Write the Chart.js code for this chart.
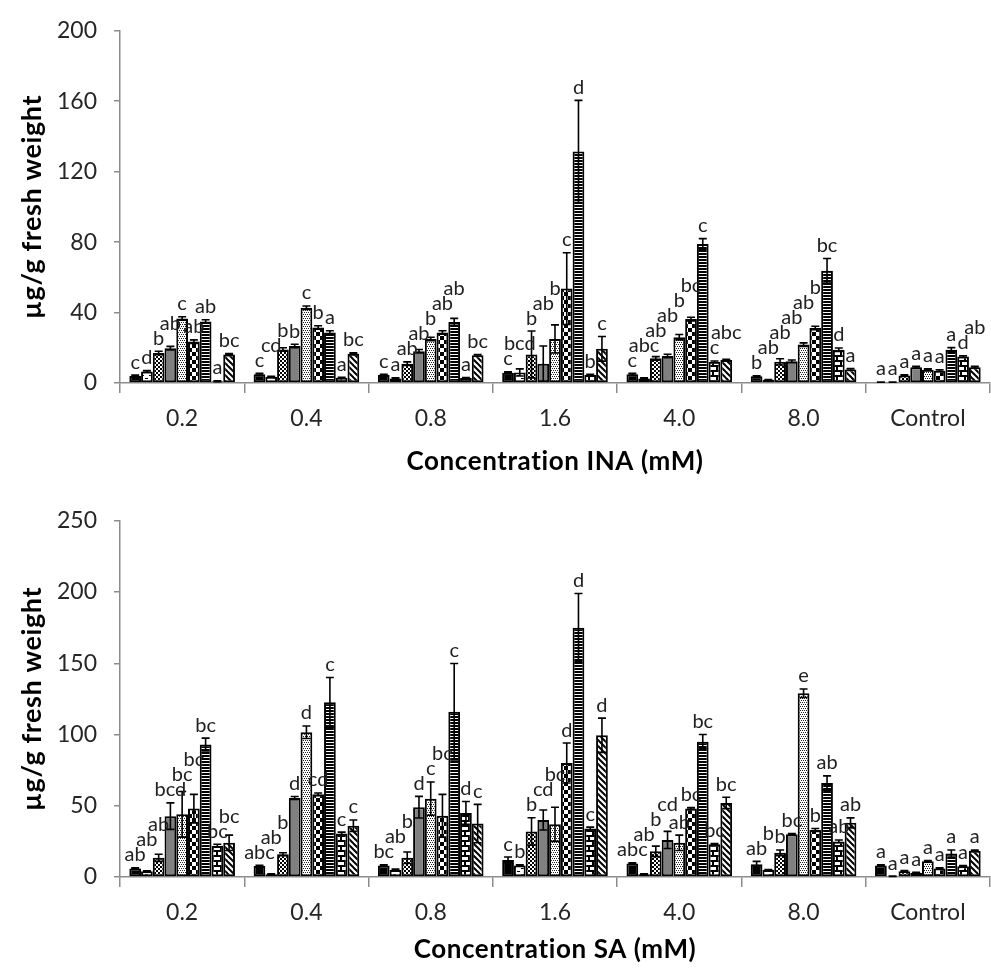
<!DOCTYPE html>
<html><head><meta charset="utf-8">
<script src="https://cdn.jsdelivr.net/npm/chart.js@4"></script>
<style>
html,body{margin:0;padding:0;background:#fff;}
#c1{position:absolute;left:0;top:0;}
#c2{position:absolute;left:0;top:490px;}
</style>
</head><body>
<canvas id="c1" width="991" height="490"></canvas>
<canvas id="c2" width="991" height="479"></canvas>
<script>
// ---------- DATA ----------
const categories = ['0.2', '0.4', '0.8', '1.6', '4.0', '8.0', 'Control'];
const seriesNames = ['Series 1', 'Series 2', 'Series 3', 'Series 4', 'Series 5', 'Series 6', 'Series 7', 'Series 8', 'Series 9'];

const inaTicks = [0, 40, 80, 120, 160, 200];
const saTicks = [0, 50, 100, 150, 200, 250];

const yTitle = 'µg/g fresh weight';
const inaTitle = 'Concentration INA (mM)';
const saTitle = 'Concentration SA (mM)';

// INA panel: values, error (SE), letters per series across categories
const inaS1 = [4, 5, 4.5, 5.8, 5, 3.8, 0.5];
const inaS2 = [6.5, 3.5, 2.6, 6, 2.6, 1.7, 0.5];
const inaS3 = [17, 19, 11, 16.2, 14, 12, 4.3];
const inaS4 = [19.8, 21, 18, 11, 15.3, 12.3, 9];
const inaS5 = [36.6, 42.7, 25, 25, 26, 21.8, 7.5];
const inaS6 = [23.5, 31.5, 28.7, 53.6, 36.3, 31.2, 7];
const inaS7 = [34.9, 28.7, 34.7, 131.5, 79, 63.7, 18.9];
const inaS8 = [1, 3, 2.8, 4.5, 12, 18.9, 15];
const inaS9 = [16.2, 16.6, 15.7, 19.4, 13, 7.7, 9];

const inaE1 = [0.5, 0.5, 0.5, 0.5, 0.5, 0.3, 0.1];
const inaE2 = [0.5, 0.3, 0.3, 2, 0.3, 0.2, 0.1];
const inaE3 = [1, 1, 1, 13.3, 1, 1.8, 0.4];
const inaE4 = [1, 1, 1, 10, 1, 0.8, 0.5];
const inaE5 = [1, 1, 1, 8, 1.5, 1, 0.5];
const inaE6 = [1, 1, 1, 20.4, 1, 1, 0.5];
const inaE7 = [1, 1, 2, 29, 3, 7, 1.2];
const inaE8 = [0.2, 0.3, 0.3, 0.5, 0.5, 1, 0.5];
const inaE9 = [0.5, 0.5, 0.5, 7, 0.5, 0.5, 0.5];

const inaL1 = ['c', 'c', 'c', 'c', 'c', 'b', 'a'];
const inaL2 = ['d', 'cd', 'a', 'bcd', 'abc', 'ab', 'a'];
const inaL3 = ['b', 'b', 'ab', 'b', 'ab', 'ab', 'a'];
const inaL4 = ['ab', 'b', 'ab', 'ab', 'ab', 'ab', 'a'];
const inaL5 = ['c', 'c', 'b', 'b', 'b', 'ab', 'a'];
const inaL6 = ['ab', 'b', 'ab', 'c', 'bc', 'b', 'a'];
const inaL7 = ['ab', 'a', 'ab', 'd', 'c', 'bc', 'a'];
const inaL8 = ['a', 'a', 'a', 'b', 'c', 'd', 'd'];
const inaL9 = ['bc', 'bc', 'bc', 'c', 'abc', 'a', 'ab'];

// SA panel
const saS1 = [6, 7.7, 8, 12, 9.5, 9, 8];
const saS2 = [4, 2, 5, 8, 2, 5, 0.5];
const saS3 = [13.5, 16, 13.5, 32, 18, 17, 4];
const saS4 = [42.7, 55.5, 49, 40, 26, 30, 3];
const saS5 = [44, 101.6, 55, 37, 24, 129, 11];
const saS6 = [48, 58, 43, 80, 48, 33, 6];
const saS7 = [93, 122.6, 116, 175, 95, 66, 16.5];
const saS8 = [22, 30.5, 45, 34, 23, 25, 7.5];
const saS9 = [24, 36, 37.5, 99.5, 52, 38, 18.5];

const saE1 = [0.5, 0.5, 0.5, 2, 0.5, 2, 0.5];
const saE2 = [0.3, 0.3, 0.5, 0.5, 0.3, 0.3, 0.1];
const saE3 = [2.5, 1, 4, 9.6, 3.7, 2, 0.5];
const saE4 = [9.3, 1, 7.6, 7, 6, 0.5, 0.3];
const saE5 = [16, 4.4, 11.7, 12, 5.4, 3, 0.5];
const saE6 = [10, 1, 15, 14, 0.7, 1, 0.5];
const saE7 = [4.5, 17.4, 33.8, 24, 5, 5, 2.5];
const saE8 = [1, 1, 8, 1, 0.5, 1, 0.5];
const saE9 = [5.4, 4, 13.5, 12, 4, 3.5, 0.5];

const saL1 = ['ab', 'abc', 'bc', 'c', 'abc', 'ab', 'a'];
const saL2 = ['ab', 'ab', 'ab', 'b', 'ab', 'b', 'a'];
const saL3 = ['ab', 'b', 'b', 'b', 'b', 'b', 'a'];
const saL4 = ['bcd', 'd', 'd', 'cd', 'cd', 'bc', 'a'];
const saL5 = ['bc', 'd', 'c', 'bc', 'ab', 'e', 'a'];
const saL6 = ['bc', 'cd', 'bc', 'd', 'bc', 'b', 'a'];
const saL7 = ['bc', 'c', 'c', 'd', 'bc', 'ab', 'a'];
const saL8 = ['bc', 'c', 'd', 'c', 'bc', 'ab', 'a'];
const saL9 = ['bc', 'c', 'c', 'd', 'bc', 'ab', 'a'];

// ---------- PATTERNS ----------
const FONT = 'Lato, "Open Sans", sans-serif';
const baseCtx = document.createElement('canvas').getContext('2d');
function pat(w, h, fn) {
  const c = document.createElement('canvas'); c.width = w; c.height = h;
  const x = c.getContext('2d');
  x.fillStyle = '#fff'; x.fillRect(0, 0, w, h);
  x.fillStyle = '#000'; fn(x);
  return baseCtx.createPattern(c, 'repeat');
}
const fills = [
  '#000000',
  pat(8, 6, x => { x.fillRect(1, 0, 3, 1); x.fillRect(5, 3, 3, 1); }),
  pat(4, 4, x => { x.fillRect(0, 0, 2, 2); x.fillRect(2, 2, 2, 2); }),
  '#808080',
  pat(4, 4, x => { x.fillStyle = '#222'; x.fillRect(0, 0, 1, 1); x.fillRect(2, 0, 1, 1); x.fillRect(1, 2, 1, 1); x.fillRect(3, 2, 1, 1); }),
  pat(8, 8, x => { x.fillRect(0, 0, 4, 4); x.fillRect(4, 4, 4, 4); }),
  pat(4, 3, x => { x.fillRect(0, 1, 4, 2); }),
  pat(8, 10, x => { x.fillRect(0, 0, 8, 2); x.fillRect(0, 5, 8, 2); x.fillRect(0, 2, 2, 3); x.fillRect(4, 7, 2, 3); }),
  pat(6, 6, x => {
    x.strokeStyle = '#000'; x.lineWidth = 2;
    [-6, 0, 6].forEach(o => { x.beginPath(); x.moveTo(o - 1, -1); x.lineTo(o + 7, 7); x.stroke(); });
  })
];

// ---------- PLUGIN: error bars + letters + axis titles ----------
const errLetters = {
  id: 'errLetters',
  afterDatasetsDraw(chart) {
    const ctx = chart.ctx, ys = chart.scales.y;
    const groups = {};
    ctx.save();
    ctx.strokeStyle = '#000'; ctx.lineWidth = 1.6;
    chart.data.datasets.forEach((ds, di) => {
      const meta = chart.getDatasetMeta(di);
      meta.data.forEach((bar, i) => {
        const v = ds.data[i], e = ds.errors[i];
        const x = bar.x;
        const yT = ys.getPixelForValue(v + e);
        const yB = ys.getPixelForValue(Math.max(v - e, 0));
        ctx.beginPath();
        ctx.moveTo(x, yT); ctx.lineTo(x, yB);
        ctx.moveTo(x - 4, yT); ctx.lineTo(x + 4, yT);
        ctx.moveTo(x - 4, yB); ctx.lineTo(x + 4, yB);
        ctx.stroke();
        (groups[i] = groups[i] || []).push([ds.letters[i], x, yT]);
      });
    });
    ctx.fillStyle = '#222';
    ctx.font = '20px ' + FONT;
    ctx.textAlign = 'center'; ctx.textBaseline = 'bottom';
    const H = 15;
    Object.values(groups).forEach(list => {
      const placed = [];
      list.forEach(([t, x, yT]) => {
        const w = ctx.measureText(t).width;
        const l = x - w / 2, r = x + w / 2;
        let bottom = yT - 5;
        let moved = true;
        while (moved) {
          moved = false;
          for (const p of placed) {
            if (l < p.r - 1 && r > p.l + 1 && bottom > p.top && bottom - H < p.bottom) {
              bottom = p.top; moved = true;
            }
          }
        }
        placed.push({ l, r, bottom, top: bottom - H });
        ctx.fillText(t, x, bottom + 2);
      });
    });
    ctx.restore();
  },
  afterDraw(chart) {
    const o = chart.options.plugins.errLetters;
    const ctx = chart.ctx, a = chart.chartArea;
    ctx.save();
    ctx.fillStyle = '#000';
    ctx.textAlign = 'center'; ctx.textBaseline = 'middle';
    if ('letterSpacing' in ctx) ctx.letterSpacing = '0.6px';
    ctx.font = 'bold 26px ' + FONT;
    ctx.fillText(o.xTitle, (a.left + a.right) / 2, o.xTitleY);
    ctx.translate(32, (a.top + a.bottom) / 2);
    ctx.rotate(-Math.PI / 2);
    ctx.font = 'bold 27px ' + FONT;
    ctx.fillText(o.yTitle, 0, 0);
    ctx.restore();
  }
};

function makeChart(id, vals, errs, lets, ticks, title, canvasH, plotTop, plotBottom, titleY) {
  const datasets = vals.map((v, k) => ({
    label: seriesNames[k], data: v, errors: errs[k], letters: lets[k],
    backgroundColor: fills[k], borderColor: '#000', borderWidth: 2,
    borderSkipped: false, categoryPercentage: 0.85, barPercentage: 1.0
  }));
  return new Chart(document.getElementById(id), {
    type: 'bar',
    data: { labels: categories, datasets },
    plugins: [errLetters],
    options: {
      responsive: false, animation: false, devicePixelRatio: 1,
      layout: { padding: { top: plotTop, right: 1, left: 0, bottom: 0 } },
      plugins: {
        legend: { display: false }, tooltip: { enabled: false },
        errLetters: { xTitle: title, yTitle: yTitle, xTitleY: titleY }
      },
      scales: {
        x: {
          offset: true,
          grid: { offset: true, drawOnChartArea: false, drawTicks: true, tickLength: 10, color: '#8c8c8c', lineWidth: 1.5 },
          border: { color: '#8c8c8c', width: 1.5 },
          ticks: { color: '#262626', font: { size: 23, family: FONT }, padding: 12 },
          afterFit: ax => { ax.height = canvasH - plotBottom; }
        },
        y: {
          min: ticks[0], max: ticks[ticks.length - 1],
          afterBuildTicks: ax => { ax.ticks = ticks.map(v => ({ value: v })); },
          grid: { drawOnChartArea: false, drawTicks: true, tickLength: 6, color: '#8c8c8c', lineWidth: 1.5 },
          border: { color: '#8c8c8c', width: 1.5 },
          ticks: { color: '#262626', font: { size: 23, family: FONT }, padding: 17 },
          afterFit: ax => { ax.width = 120; }
        }
      }
    }
  });
}

makeChart('c1',
  [inaS1, inaS2, inaS3, inaS4, inaS5, inaS6, inaS7, inaS8, inaS9],
  [inaE1, inaE2, inaE3, inaE4, inaE5, inaE6, inaE7, inaE8, inaE9],
  [inaL1, inaL2, inaL3, inaL4, inaL5, inaL6, inaL7, inaL8, inaL9],
  inaTicks, inaTitle, 490, 27, 383, 462);
makeChart('c2',
  [saS1, saS2, saS3, saS4, saS5, saS6, saS7, saS8, saS9],
  [saE1, saE2, saE3, saE4, saE5, saE6, saE7, saE8, saE9],
  [saL1, saL2, saL3, saL4, saL5, saL6, saL7, saL8, saL9],
  saTicks, saTitle, 479, 29, 387, 460);
</script>
</body></html>
